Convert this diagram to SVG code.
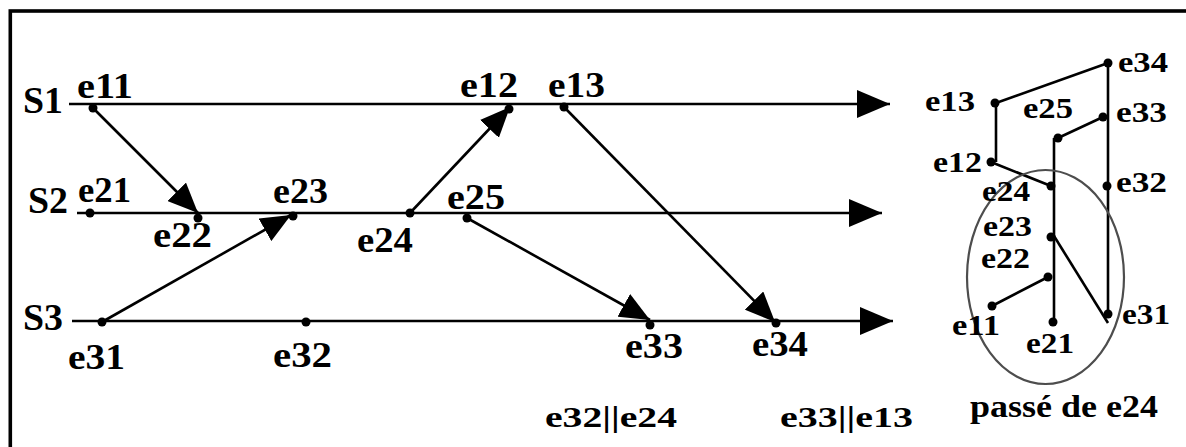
<svg xmlns="http://www.w3.org/2000/svg" width="1186" height="447" viewBox="0 0 1186 447">
<style>
text{font-family:"Liberation Serif","Times New Roman",serif;font-weight:bold;fill:#000}
.lbl{font-size:36px}
.pl{font-size:29px}
.sl{font-size:38px}
.ln{stroke:#000;stroke-width:2.6;fill:none}
.dot{fill:#000}
</style>
<defs>
<marker id="ah" markerUnits="userSpaceOnUse" markerWidth="30" markerHeight="26" viewBox="0 0 30 26" refX="30" refY="13" orient="auto"><path d="M0,0 L30,13 L0,26 z" fill="#000"/></marker>
<marker id="th" markerUnits="userSpaceOnUse" markerWidth="33" markerHeight="28" viewBox="0 0 33 28" refX="33" refY="14" orient="auto"><path d="M0,0 L33,14 L0,28 z" fill="#000"/></marker>
</defs>
<rect x="10.3" y="11" width="1200" height="460" fill="none" stroke="#000" stroke-width="3.6"/>
<g id="timelines">
<g id="S1"><text class="sl" x="23" y="113" textLength="40" lengthAdjust="spacingAndGlyphs">S1</text><line class="ln" x1="69" y1="104" x2="890" y2="104" marker-end="url(#th)"/></g>
<g id="S2"><text class="sl" x="28" y="213" textLength="40" lengthAdjust="spacingAndGlyphs">S2</text><line class="ln" x1="77" y1="213" x2="882" y2="213" marker-end="url(#th)"/></g>
<g id="S3"><text class="sl" x="23" y="330" textLength="40" lengthAdjust="spacingAndGlyphs">S3</text><line class="ln" x1="72" y1="321" x2="893" y2="321" marker-end="url(#th)"/></g>
</g>
<g id="connectors">
<line class="ln" x1="93" y1="108" x2="198" y2="213" marker-end="url(#ah)"/>
<line class="ln" x1="102" y1="322" x2="291" y2="215" marker-end="url(#ah)"/>
<line class="ln" x1="410" y1="213" x2="510" y2="107" marker-end="url(#ah)"/>
<line class="ln" x1="467" y1="218" x2="650" y2="320" marker-end="url(#ah)"/>
<line class="ln" x1="564" y1="107" x2="775" y2="322" marker-end="url(#ah)"/>
</g>
<g id="e11"><circle class="dot" cx="93" cy="108" r="4.5"/><text class="lbl" x="77" y="98" textLength="56" lengthAdjust="spacingAndGlyphs">e11</text></g>
<g id="e12"><circle class="dot" cx="509" cy="109" r="4.5"/><text class="lbl" x="460" y="97" textLength="58" lengthAdjust="spacingAndGlyphs">e12</text></g>
<g id="e13"><circle class="dot" cx="564" cy="107" r="4.5"/><text class="lbl" x="548" y="97" textLength="57" lengthAdjust="spacingAndGlyphs">e13</text></g>
<g id="e21"><circle class="dot" cx="90" cy="213" r="4.5"/><text class="lbl" x="78" y="202" textLength="53" lengthAdjust="spacingAndGlyphs">e21</text></g>
<g id="e22"><circle class="dot" cx="198" cy="218" r="4.5"/><text class="lbl" x="153" y="247" textLength="59" lengthAdjust="spacingAndGlyphs">e22</text></g>
<g id="e23"><circle class="dot" cx="293" cy="216" r="4.5"/><text class="lbl" x="273" y="203" textLength="55" lengthAdjust="spacingAndGlyphs">e23</text></g>
<g id="e24"><circle class="dot" cx="410" cy="213" r="4.5"/><text class="lbl" x="357" y="252" textLength="56" lengthAdjust="spacingAndGlyphs">e24</text></g>
<g id="e25"><circle class="dot" cx="467" cy="218" r="4.5"/><text class="lbl" x="447" y="209" textLength="58" lengthAdjust="spacingAndGlyphs">e25</text></g>
<g id="e31"><circle class="dot" cx="102" cy="322" r="4.5"/><text class="lbl" x="68" y="369" textLength="57" lengthAdjust="spacingAndGlyphs">e31</text></g>
<g id="e32"><circle class="dot" cx="306" cy="322" r="4.5"/><text class="lbl" x="273" y="367" textLength="59" lengthAdjust="spacingAndGlyphs">e32</text></g>
<g id="e33"><circle class="dot" cx="650" cy="325" r="4.5"/><text class="lbl" x="625" y="358" textLength="58" lengthAdjust="spacingAndGlyphs">e33</text></g>
<g id="e34"><circle class="dot" cx="776" cy="323" r="4.5"/><text class="lbl" x="752" y="356" textLength="56" lengthAdjust="spacingAndGlyphs">e34</text></g>
<g id="notes">
<text x="545" y="427" font-size="30" textLength="132" lengthAdjust="spacingAndGlyphs">e32||e24</text>
<text x="780" y="427" font-size="30" textLength="133" lengthAdjust="spacingAndGlyphs">e33||e13</text>
</g>
<g id="past-connectors">
<line class="ln" x1="996" y1="103" x2="1108" y2="63"/>
<line class="ln" x1="996" y1="103" x2="996" y2="162"/>
<line class="ln" x1="991" y1="162" x2="1051" y2="186"/>
<line class="ln" x1="1108" y1="63" x2="1108" y2="318"/>
<line class="ln" x1="1058" y1="138" x2="1103" y2="117"/>
<line class="ln" x1="1054" y1="138" x2="1054" y2="322"/>
<line class="ln" x1="1054" y1="236" x2="1108" y2="323"/>
<line class="ln" x1="992" y1="306" x2="1048" y2="277"/>
</g>
<ellipse id="passe-ellipse" cx="1045.5" cy="277" rx="78.5" ry="107" fill="none" stroke="#4d4d4d" stroke-width="2.2"/>
<g id="p-e34"><circle class="dot" cx="1108" cy="63" r="4.5"/><text class="pl" x="1118" y="72" textLength="50" lengthAdjust="spacingAndGlyphs">e34</text></g>
<g id="p-e13"><circle class="dot" cx="995" cy="103" r="4.5"/><text class="pl" x="925" y="111" textLength="50" lengthAdjust="spacingAndGlyphs">e13</text></g>
<g id="p-e25"><circle class="dot" cx="1058" cy="138" r="4.5"/><text class="pl" x="1023" y="118" textLength="50" lengthAdjust="spacingAndGlyphs">e25</text></g>
<g id="p-e33"><circle class="dot" cx="1103" cy="117" r="4.5"/><text class="pl" x="1116" y="122" textLength="51" lengthAdjust="spacingAndGlyphs">e33</text></g>
<g id="p-e12"><circle class="dot" cx="991" cy="162" r="4.5"/><text class="pl" x="933" y="172" textLength="49" lengthAdjust="spacingAndGlyphs">e12</text></g>
<g id="p-e24"><circle class="dot" cx="1051" cy="186" r="4.5"/><text class="pl" x="982" y="201" textLength="48" lengthAdjust="spacingAndGlyphs">e24</text></g>
<g id="p-e32"><circle class="dot" cx="1107" cy="186" r="4.5"/><text class="pl" x="1116" y="192" textLength="51" lengthAdjust="spacingAndGlyphs">e32</text></g>
<g id="p-e23"><circle class="dot" cx="1051" cy="237" r="4.5"/><text class="pl" x="983" y="236" textLength="49" lengthAdjust="spacingAndGlyphs">e23</text></g>
<g id="p-e22"><circle class="dot" cx="1048" cy="277" r="4.5"/><text class="pl" x="981" y="268" textLength="49" lengthAdjust="spacingAndGlyphs">e22</text></g>
<g id="p-e11"><circle class="dot" cx="992" cy="306" r="4.5"/><text class="pl" x="952" y="335" textLength="48" lengthAdjust="spacingAndGlyphs">e11</text></g>
<g id="p-e21"><circle class="dot" cx="1053" cy="322" r="4.5"/><text class="pl" x="1026" y="353" textLength="48" lengthAdjust="spacingAndGlyphs">e21</text></g>
<g id="p-e31"><circle class="dot" cx="1108" cy="314" r="4.5"/><text class="pl" x="1122" y="324" textLength="48" lengthAdjust="spacingAndGlyphs">e31</text></g>
<text id="passe-label" x="970" y="417" font-size="31" textLength="188" lengthAdjust="spacingAndGlyphs">passé de e24</text>
</svg>
